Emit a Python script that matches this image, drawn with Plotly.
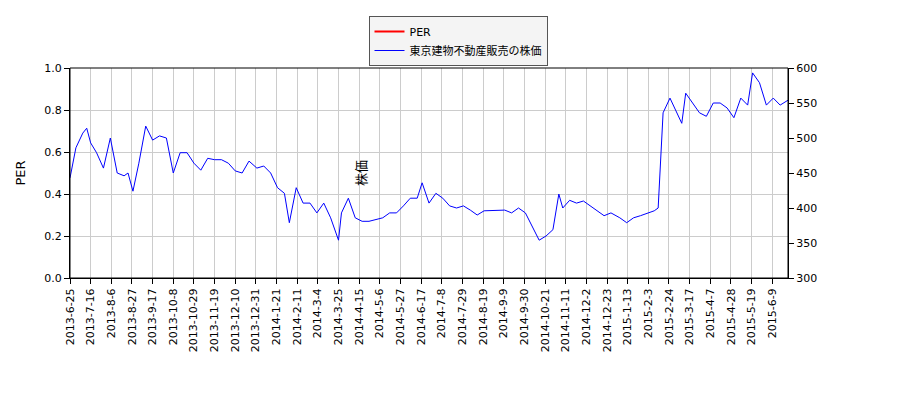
import plotly.graph_objects as go
import datetime as dt

dates = ["2013-06-25","2013-07-01","2013-07-08","2013-07-12","2013-07-16","2013-07-22","2013-07-29","2013-08-05","2013-08-12","2013-08-19","2013-08-23","2013-08-28","2013-09-03","2013-09-10","2013-09-17","2013-09-24","2013-10-01","2013-10-08","2013-10-15","2013-10-22","2013-10-29","2013-11-05","2013-11-12","2013-11-19","2013-11-26","2013-12-03","2013-12-10","2013-12-17","2013-12-24","2014-01-01","2014-01-08","2014-01-15","2014-01-22","2014-01-29","2014-02-03","2014-02-10","2014-02-17","2014-02-24","2014-03-03","2014-03-10","2014-03-17","2014-03-25","2014-03-28","2014-04-04","2014-04-11","2014-04-18","2014-04-25","2014-05-02","2014-05-09","2014-05-16","2014-05-23","2014-05-30","2014-06-06","2014-06-13","2014-06-18","2014-06-25","2014-07-02","2014-07-09","2014-07-16","2014-07-23","2014-07-30","2014-08-06","2014-08-13","2014-08-20","2014-08-27","2014-09-03","2014-09-10","2014-09-17","2014-09-24","2014-10-01","2014-10-08","2014-10-15","2014-10-22","2014-10-29","2014-11-04","2014-11-08","2014-11-15","2014-11-22","2014-11-29","2014-12-06","2014-12-13","2014-12-20","2014-12-27","2015-01-05","2015-01-12","2015-01-19","2015-01-26","2015-02-02","2015-02-09","2015-02-13","2015-02-18","2015-02-25","2015-03-04","2015-03-09","2015-03-13","2015-03-20","2015-03-27","2015-04-03","2015-04-10","2015-04-17","2015-04-24","2015-05-01","2015-05-08","2015-05-15","2015-05-20","2015-05-27","2015-06-03","2015-06-10","2015-06-17","2015-06-25"]
price = [443,486,507,514,493,479,457,500,450,446,450,424,464,517,497,503,500,450,479,479,464,454,471,469,469,464,453,450,467,457,460,450,429,421,379,429,407,407,393,407,386,354,393,414,386,381,381,383,386,393,393,403,414,414,436,407,421,414,403,400,403,397,390,396,396,397,397,393,400,393,374,354,360,369,420,400,411,407,410,403,396,389,393,386,379,386,389,393,396,400,536,557,536,521,564,550,536,531,550,550,543,529,557,547,593,579,547,557,547,554]

start = dt.date(2013,6,25)
tickvals, ticktext = [], []
d = start
while d <= dt.date(2015,6,25):
    tickvals.append(d.isoformat()); ticktext.append(f"{d.year}-{d.month}-{d.day}")
    d += dt.timedelta(days=21)

fig = go.Figure()
fig.add_trace(go.Scatter(x=[dates[0]], y=[None], mode="lines", name="PER", line=dict(color="red", width=2), showlegend=True))
fig.add_trace(go.Scatter(x=dates, y=price, mode="lines", name="東京建物不動産販売の株価", line=dict(color="blue", width=1), yaxis="y2"))

ax = dict(showline=True, linecolor="black", gridcolor="#cccccc", ticks="outside", tickcolor="black",
          tickfont=dict(size=11, color="black"))
fig.update_layout(
    width=900, height=400, plot_bgcolor="white", paper_bgcolor="white",
    font=dict(family="DejaVu Sans, Noto Sans CJK JP", size=11, color="black"),
    margin=dict(l=62, r=120, t=60, b=130, autoexpand=False),
    xaxis=dict(**ax, type="date", range=["2013-06-25","2015-06-25"], tickvals=tickvals, ticktext=ticktext, tickangle=-90),
    yaxis=dict(**ax, range=[0,1], dtick=0.2, tickformat=".1f", title=dict(text="PER")),
    yaxis2=dict(**ax, range=[300,600], dtick=50, overlaying="y", side="right", title=dict(text="株価"), showgrid=False),
    legend=dict(x=0.5, xanchor="center", xref="container", y=0.98, yanchor="top", yref="container",
                bordercolor="#555", borderwidth=1, bgcolor="#f4f4f4"),
    showlegend=True,
)
fig.add_shape(type="rect", xref="paper", yref="paper", x0=0, x1=1, y0=0, y1=1, line=dict(color="black", width=1))
fig.write_html("out.html")
